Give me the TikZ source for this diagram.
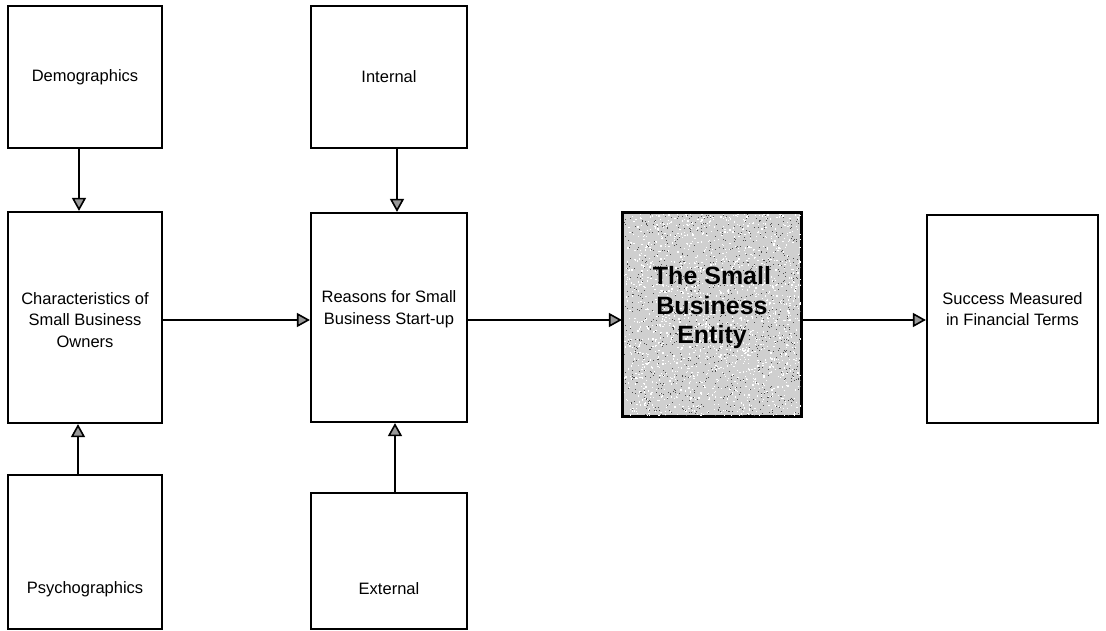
\documentclass[tikz,border=0pt]{standalone}
\usepackage{fontspec}
\setmainfont{Liberation Sans}
\usetikzlibrary{arrows.meta}
\begin{document}
\begin{tikzpicture}[x=1pt,y=-1pt,
  box/.style={draw,line width=2.2pt,rectangle,inner sep=0pt},
  lbl/.style={font=\fontsize{16.5}{21.5}\selectfont,align=center,inner sep=0pt},
  big/.style={font=\fontsize{25}{29.5}\selectfont\bfseries,align=center,inner sep=0pt},
  link/.style={line width=1.6pt,-{Triangle[length=13pt,width=14pt,fill=gray!80]}}
]
\useasboundingbox (0,0) rectangle (1106,631);

% frames
\node[box,minimum width=154pt,minimum height=142pt] (dem)  at (85,77)      {};
\node[box,minimum width=154pt,minimum height=211pt] (char) at (85,317.5)   {};
\node[box,minimum width=154pt,minimum height=154pt] (psy)  at (85,552)     {};
\node[box,minimum width=156pt,minimum height=142pt] (int)  at (389,77)     {};
\node[box,minimum width=156pt,minimum height=209pt] (rea)  at (389,317.5)  {};
\node[box,minimum width=156pt,minimum height=136pt] (ext)  at (389,561)    {};
\node[box,minimum width=178pt,minimum height=203pt,fill=gray!38] (ent) at (712,314.5) {};
\node[box,minimum width=171pt,minimum height=208pt] (suc)  at (1012.5,319) {};

% grain of the shaded entity box
\pgfmathsetseed{7}
\begin{scope}
  \clip ([shift={(1,-1)}]ent.north west) rectangle ([shift={(-1,1)}]ent.south east);
  \foreach \i in {1,...,1600}
    \fill[white] (712+88*rand,314.5+101*rand) rectangle ++(1.3,1.3);
  \foreach \i in {1,...,1000}
    \fill[black!70] (712+88*rand,314.5+101*rand) rectangle ++(1,1);
\end{scope}
\draw[line width=2.2pt] (ent.north west) rectangle (ent.south east);

% labels
\node[lbl] (tdem)  at (85,77)   {Demographics};
\node[lbl] (tchar) at (85,320)  {Characteristics of\\Small Business\\Owners};
\node[lbl] (tpsy)  at (85,589)  {Psychographics};
\node[lbl] (tint)  at (389,77)  {Internal};
\node[lbl] (trea)  at (389,309) {Reasons for Small\\Business Start-up};
\node[lbl] (text)  at (389,589) {External};
\node[big] (tent)  at (712,308) {The Small\\Business\\Entity};
\node[lbl] (tsuc)  at (1012.5,309) {Success Measured\\in Financial Terms};

% connectors
\coordinate (row) at (0,320);
\draw[link] ([xshift=-6pt]dem.south) -- ([xshift=-6pt]char.north);
\draw[link] ([xshift=-7pt]psy.north) -- ([xshift=-7pt]char.south);
\draw[link] ([xshift=8pt]int.south)  -- ([xshift=8pt]rea.north);
\draw[link] ([xshift=6pt]ext.north)  -- ([xshift=6pt]rea.south);
\draw[link] (char.east |- row) -- (rea.west |- row);
\draw[link] (rea.east |- row)  -- (ent.west |- row);
\draw[link] (ent.east |- row)  -- (suc.west |- row);
\end{tikzpicture}
\end{document}
